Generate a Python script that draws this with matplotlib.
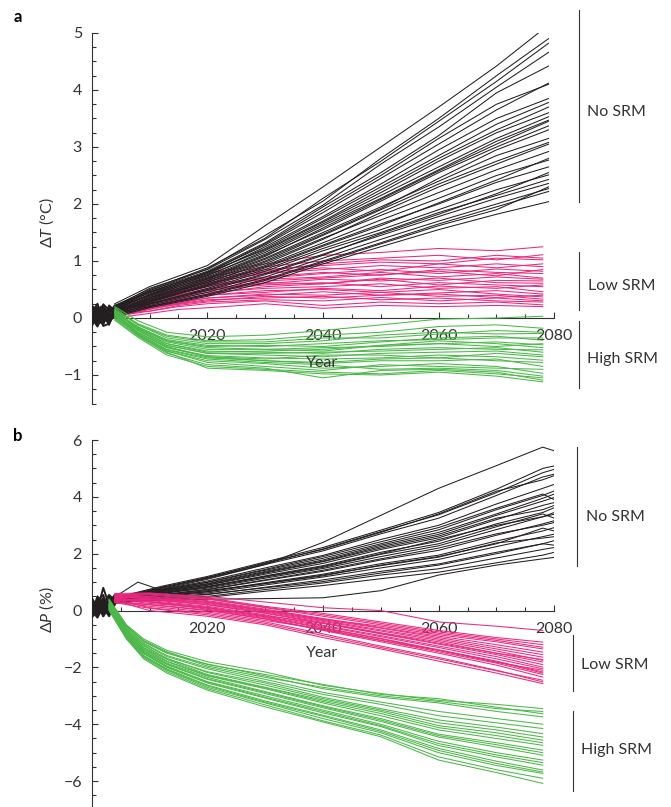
import matplotlib
matplotlib.use("Agg")
import matplotlib.pyplot as plt
from matplotlib.lines import Line2D
from matplotlib.ticker import MultipleLocator, FixedLocator

plt.rcParams["font.family"] = ["Lato", "DejaVu Sans"]
plt.rcParams["mathtext.fontset"] = "custom"
plt.rcParams["mathtext.rm"] = "Lato"
plt.rcParams["mathtext.it"] = "Lato:italic"

TXT = "#333333"
BLACK = "#231f20"
PINK = "#e8297f"
GREEN = "#4cb849"

# ------------------------------
# Data
# ------------------------------
hist_years = [2000, 2001, 2002, 2003, 2004]
hist_a = [
    [0.05, -0.10, 0.15, 0.00, 0.10],
    [-0.05, 0.10, -0.08, 0.20, 0.15],
    [0.20, 0.00, 0.05, -0.12, 0.18],
    [-0.12, 0.15, 0.22, 0.05, 0.12],
    [0.10, 0.25, -0.05, 0.10, 0.20],
    [0.00, -0.15, 0.10, 0.18, 0.05],
    [0.15, 0.05, -0.10, 0.08, 0.22],
    [-0.08, 0.02, 0.18, -0.05, 0.10],
    [0.12, -0.05, 0.00, 0.15, 0.08],
    [-0.15, 0.08, 0.12, -0.02, 0.16],
    [0.22, 0.12, 0.20, 0.02, 0.14],
    [-0.02, -0.12, -0.02, 0.12, 0.20],
    [0.08, 0.18, 0.08, -0.08, 0.06],
    [-0.10, -0.02, -0.12, 0.22, 0.12],
    [0.18, -0.08, 0.24, 0.14, 0.18],
    [-0.06, 0.20, -0.14, -0.10, 0.08],
]
hist_b = [
    [0.10, -0.20, 0.30, 0.05, 0.40],
    [-0.15, 0.25, 0.00, 0.35, 0.50],
    [0.30, 0.05, 0.80, 0.20, 0.45],
    [0.00, 0.40, -0.10, 0.15, 0.30],
    [0.20, -0.05, 0.25, 0.55, 0.35],
    [-0.20, 0.15, 0.45, -0.05, 0.20],
    [0.45, 0.10, -0.15, 0.30, 0.55],
    [0.05, 0.30, 0.10, -0.20, 0.25],
    [0.25, -0.15, 0.05, 0.40, 0.30],
    [-0.10, 0.50, 0.20, 0.00, 0.45],
    [0.35, 0.20, -0.20, 0.10, 0.38],
    [-0.25, 0.00, 0.35, 0.25, 0.28],
    [0.15, 0.35, 0.55, -0.10, 0.42],
    [0.00, -0.25, 0.15, 0.45, 0.35],
    [0.40, -0.10, 0.40, -0.15, 0.32],
    [-0.18, 0.45, -0.20, 0.50, 0.40],
]

# panel a: temperature change (deg C)
no_srm_a_years = [2004, 2010, 2020, 2030, 2040, 2050, 2060, 2070, 2079]
no_srm_a = [
    [0.25, 0.55, 0.92, 1.62, 2.30, 3.00, 3.70, 4.42, 5.14],
    [0.22, 0.50, 0.88, 1.40, 2.10, 2.75, 3.45, 4.15, 4.82],
    [0.20, 0.52, 0.85, 1.38, 1.98, 2.70, 3.35, 4.05, 4.66],
    [0.18, 0.48, 0.82, 1.32, 1.95, 2.55, 3.20, 3.95, 4.42],
    [0.22, 0.45, 0.80, 1.28, 1.85, 2.45, 3.05, 3.65, 4.12],
    [0.15, 0.42, 0.78, 1.22, 1.75, 2.30, 2.85, 3.40, 3.78],
    [0.20, 0.45, 0.80, 1.20, 1.70, 2.25, 2.80, 3.30, 3.70],
    [0.18, 0.40, 0.75, 1.15, 1.65, 2.15, 2.65, 3.15, 3.53],
    [0.12, 0.38, 0.72, 1.12, 1.62, 2.10, 2.60, 3.10, 3.47],
    [0.15, 0.40, 0.70, 1.10, 1.55, 2.05, 2.55, 3.00, 3.37],
    [0.10, 0.35, 0.68, 1.05, 1.50, 1.95, 2.40, 2.85, 3.15],
    [0.15, 0.32, 0.65, 1.00, 1.45, 1.90, 2.35, 2.75, 3.08],
    [0.12, 0.35, 0.62, 0.98, 1.40, 1.80, 2.20, 2.60, 2.92],
    [0.10, 0.30, 0.60, 0.92, 1.32, 1.72, 2.10, 2.50, 2.77],
    [0.08, 0.28, 0.58, 0.90, 1.28, 1.65, 2.00, 2.38, 2.65],
    [0.12, 0.30, 0.55, 0.85, 1.22, 1.55, 1.90, 2.25, 2.51],
    [0.10, 0.25, 0.52, 0.82, 1.18, 1.50, 1.85, 2.15, 2.43],
    [0.05, 0.25, 0.50, 0.78, 1.12, 1.45, 1.78, 2.10, 2.36],
    [0.08, 0.22, 0.45, 0.72, 1.05, 1.38, 1.70, 2.00, 2.27],
    [0.05, 0.20, 0.42, 0.68, 1.00, 1.32, 1.65, 1.95, 2.22],
    [0.02, 0.18, 0.38, 0.62, 0.95, 1.25, 1.55, 1.82, 2.04],
    [0.20, 0.48, 0.86, 1.45, 2.05, 2.80, 3.50, 4.25, 4.90],
    [0.15, 0.46, 0.80, 1.30, 1.90, 2.50, 3.15, 3.75, 4.10],
    [0.18, 0.44, 0.76, 1.25, 1.78, 2.35, 2.95, 3.50, 3.85],
    [0.14, 0.41, 0.74, 1.18, 1.68, 2.20, 2.75, 3.25, 3.60],
    [0.10, 0.36, 0.69, 1.08, 1.58, 2.08, 2.58, 3.05, 3.45],
    [0.12, 0.33, 0.66, 1.03, 1.47, 1.92, 2.45, 2.95, 3.30],
    [0.08, 0.30, 0.63, 0.95, 1.38, 1.85, 2.30, 2.70, 3.05],
    [0.10, 0.27, 0.57, 0.88, 1.26, 1.62, 2.02, 2.42, 2.80],
    [0.06, 0.24, 0.48, 0.76, 1.10, 1.48, 1.82, 2.18, 2.55],
    [0.04, 0.20, 0.40, 0.66, 0.98, 1.30, 1.62, 1.90, 2.30],
]
low_srm_a_years = [2004, 2010, 2015, 2020, 2030, 2040, 2050, 2060, 2070, 2078]
low_srm_a = [
    [0.18, 0.40, 0.60, 0.78, 0.95, 1.10, 1.15, 1.22, 1.18, 1.25],
    [0.15, 0.35, 0.55, 0.72, 0.90, 1.00, 1.05, 1.10, 1.02, 1.11],
    [0.20, 0.38, 0.52, 0.68, 0.85, 0.92, 0.98, 0.95, 1.05, 1.02],
    [0.12, 0.30, 0.48, 0.62, 0.78, 0.85, 0.92, 0.88, 0.95, 0.90],
    [0.15, 0.32, 0.45, 0.58, 0.72, 0.80, 0.75, 0.85, 0.80, 0.78],
    [0.10, 0.28, 0.42, 0.55, 0.68, 0.72, 0.80, 0.72, 0.78, 0.70],
    [0.18, 0.30, 0.40, 0.52, 0.60, 0.68, 0.65, 0.70, 0.62, 0.61],
    [0.08, 0.22, 0.35, 0.48, 0.58, 0.62, 0.55, 0.62, 0.58, 0.55],
    [0.12, 0.25, 0.35, 0.45, 0.52, 0.55, 0.60, 0.52, 0.55, 0.46],
    [0.05, 0.18, 0.30, 0.40, 0.48, 0.50, 0.45, 0.50, 0.42, 0.37],
    [0.10, 0.20, 0.28, 0.35, 0.42, 0.40, 0.45, 0.38, 0.40, 0.33],
    [0.02, 0.15, 0.25, 0.32, 0.35, 0.38, 0.32, 0.35, 0.30, 0.28],
    [0.08, 0.12, 0.20, 0.25, 0.30, 0.22, 0.28, 0.25, 0.28, 0.23],
    [0.00, 0.08, 0.15, 0.18, 0.25, 0.17, 0.22, 0.20, 0.22, 0.20],
    [0.14, 0.28, 0.45, 0.60, 0.80, 0.88, 0.82, 0.95, 0.88, 0.95],
    [0.06, 0.20, 0.32, 0.42, 0.55, 0.60, 0.68, 0.58, 0.66, 0.65],
    [0.16, 0.36, 0.50, 0.65, 0.82, 0.95, 1.02, 1.00, 1.10, 1.05],
    [0.10, 0.26, 0.40, 0.50, 0.65, 0.70, 0.76, 0.82, 0.74, 0.85],
    [0.12, 0.24, 0.38, 0.48, 0.62, 0.60, 0.70, 0.66, 0.72, 0.68],
    [0.05, 0.20, 0.30, 0.40, 0.45, 0.52, 0.48, 0.56, 0.52, 0.58],
    [0.08, 0.18, 0.26, 0.35, 0.40, 0.46, 0.40, 0.44, 0.48, 0.42],
    [0.03, 0.12, 0.22, 0.28, 0.32, 0.30, 0.36, 0.30, 0.35, 0.30],
    [0.14, 0.30, 0.44, 0.56, 0.70, 0.78, 0.85, 0.78, 0.86, 0.82],
    [0.06, 0.16, 0.24, 0.30, 0.38, 0.35, 0.40, 0.42, 0.36, 0.40],
]
high_srm_a_years = [2004, 2008, 2013, 2020, 2030, 2040, 2050, 2060, 2070, 2078]
high_srm_a = [
    [0.20, -0.05, -0.25, -0.33, -0.30, -0.22, -0.12, -0.02, 0.00, 0.03],
    [0.15, -0.10, -0.30, -0.40, -0.38, -0.30, -0.25, -0.15, -0.12, -0.18],
    [0.18, -0.12, -0.35, -0.45, -0.45, -0.40, -0.30, -0.25, -0.28, -0.27],
    [0.10, -0.15, -0.40, -0.50, -0.48, -0.50, -0.42, -0.35, -0.32, -0.39],
    [0.12, -0.18, -0.42, -0.55, -0.55, -0.52, -0.50, -0.45, -0.42, -0.47],
    [0.05, -0.20, -0.45, -0.58, -0.60, -0.62, -0.55, -0.52, -0.55, -0.56],
    [0.15, -0.22, -0.48, -0.62, -0.65, -0.68, -0.62, -0.60, -0.58, -0.65],
    [0.08, -0.25, -0.52, -0.66, -0.70, -0.72, -0.70, -0.65, -0.68, -0.74],
    [0.02, -0.28, -0.55, -0.70, -0.75, -0.80, -0.75, -0.75, -0.72, -0.85],
    [0.10, -0.30, -0.58, -0.75, -0.80, -0.88, -0.85, -0.80, -0.85, -0.97],
    [-0.02, -0.32, -0.62, -0.82, -0.88, -1.05, -0.92, -0.90, -0.95, -1.09],
    [0.05, -0.30, -0.60, -0.88, -0.92, -0.98, -1.00, -0.95, -1.02, -1.12],
    [0.12, -0.20, -0.45, -0.60, -0.58, -0.55, -0.48, -0.40, -0.45, -0.52],
    [0.00, -0.25, -0.50, -0.68, -0.72, -0.65, -0.65, -0.70, -0.62, -0.68],
    [0.14, -0.12, -0.32, -0.42, -0.42, -0.35, -0.35, -0.28, -0.22, -0.25],
    [0.08, -0.18, -0.40, -0.52, -0.55, -0.58, -0.48, -0.45, -0.50, -0.45],
    [0.04, -0.22, -0.48, -0.62, -0.62, -0.60, -0.58, -0.55, -0.52, -0.60],
    [0.10, -0.26, -0.52, -0.68, -0.75, -0.78, -0.72, -0.70, -0.75, -0.78],
    [0.00, -0.30, -0.58, -0.78, -0.85, -0.92, -0.82, -0.85, -0.88, -0.90],
    [0.06, -0.28, -0.56, -0.72, -0.78, -0.82, -0.90, -0.88, -0.92, -1.02],
    [0.12, -0.16, -0.38, -0.48, -0.50, -0.45, -0.40, -0.38, -0.35, -0.35],
    [-0.04, -0.34, -0.65, -0.85, -0.90, -0.95, -0.98, -0.92, -0.98, -1.05],
]

# panel b: precipitation change (%)
no_srm_b_years = [2004, 2008, 2012, 2020, 2030, 2040, 2050, 2060, 2070, 2078, 2080]
no_srm_b = [
    [0.50, 0.60, 0.75, 1.10, 1.62, 2.40, 3.35, 4.30, 5.10, 5.75, 5.62],
    [0.45, 0.65, 0.85, 1.20, 1.71, 2.22, 2.83, 3.45, 4.27, 5.00, 5.09],
    [0.40, 0.62, 0.80, 1.17, 1.65, 2.17, 2.78, 3.37, 4.15, 4.85, 4.97],
    [0.42, 0.60, 0.78, 1.13, 1.62, 2.10, 2.70, 3.25, 4.05, 4.70, 4.80],
    [0.38, 0.58, 0.74, 1.04, 1.50, 1.94, 2.50, 3.00, 3.75, 4.30, 4.44],
    [0.48, 1.00, 0.72, 0.99, 1.42, 1.84, 2.35, 2.84, 3.55, 4.05, 4.21],
    [0.35, 0.55, 0.68, 0.93, 1.35, 1.74, 2.25, 2.68, 3.35, 3.85, 3.98],
    [0.40, 0.52, 0.66, 0.89, 1.28, 1.66, 2.15, 2.56, 3.20, 3.70, 3.80],
    [0.33, 0.50, 0.63, 0.84, 1.22, 1.58, 2.05, 2.44, 3.05, 3.45, 3.62],
    [0.36, 0.48, 0.60, 0.79, 1.14, 1.48, 1.90, 2.28, 2.85, 3.30, 3.39],
    [0.30, 0.45, 0.56, 0.73, 1.06, 1.38, 1.78, 2.12, 2.65, 3.05, 3.16],
    [0.34, 0.42, 0.52, 0.67, 0.98, 1.28, 1.65, 1.95, 2.45, 2.80, 2.92],
    [0.28, 0.40, 0.50, 0.62, 0.90, 1.18, 1.50, 1.80, 2.25, 2.60, 2.69],
    [0.32, 0.38, 0.46, 0.56, 0.82, 1.08, 1.38, 1.64, 2.05, 2.35, 2.46],
    [0.26, 0.35, 0.42, 0.50, 0.74, 0.97, 1.25, 1.47, 1.85, 2.15, 2.22],
    [0.30, 0.34, 0.40, 0.46, 0.68, 0.88, 1.12, 1.35, 1.68, 1.95, 2.05],
    [0.28, 0.33, 0.36, 0.40, 0.42, 0.45, 0.70, 1.25, 1.60, 1.82, 1.87],
    [0.38, 0.50, 0.62, 0.85, 1.20, 1.55, 2.00, 2.50, 3.00, 3.30, 3.45],
    [0.32, 0.44, 0.54, 0.70, 0.95, 1.22, 1.60, 1.90, 2.35, 2.90, 2.80],
    [0.44, 0.62, 0.82, 1.15, 1.68, 2.15, 2.75, 3.40, 4.20, 4.60, 4.75],
    [0.40, 0.56, 0.72, 1.00, 1.45, 1.90, 2.42, 2.92, 3.60, 4.10, 3.90],
    [0.36, 0.52, 0.66, 0.90, 1.32, 1.72, 2.20, 2.62, 3.25, 3.55, 3.70],
    [0.34, 0.48, 0.60, 0.82, 1.18, 1.52, 1.98, 2.35, 2.95, 3.40, 3.25],
    [0.30, 0.44, 0.55, 0.75, 1.08, 1.42, 1.82, 2.20, 2.70, 3.00, 3.10],
    [0.28, 0.40, 0.50, 0.66, 0.95, 1.25, 1.58, 1.88, 2.38, 2.55, 2.60],
    [0.26, 0.36, 0.44, 0.58, 0.80, 1.02, 1.32, 1.60, 2.00, 2.35, 2.30],
    [0.42, 0.55, 0.70, 0.95, 1.38, 1.78, 2.30, 2.75, 3.40, 3.95, 4.10],
]
low_srm_b_years = [2004, 2010, 2020, 2030, 2040, 2050, 2060, 2070, 2078]
low_srm_b = [
    [0.55, 0.60, 0.50, 0.30, 0.10, 0.00, -0.40, -0.55, -0.70],
    [0.60, 0.62, 0.45, 0.15, -0.10, -0.40, -0.70, -0.95, -1.11],
    [0.50, 0.55, 0.40, 0.10, -0.20, -0.50, -0.80, -1.05, -1.29],
    [0.45, 0.50, 0.35, 0.05, -0.28, -0.60, -0.90, -1.20, -1.46],
    [0.55, 0.45, 0.28, -0.02, -0.35, -0.68, -1.00, -1.35, -1.64],
    [0.40, 0.40, 0.22, -0.08, -0.42, -0.78, -1.10, -1.50, -1.81],
    [0.35, 0.35, 0.15, -0.15, -0.52, -0.88, -1.25, -1.62, -1.99],
    [0.45, 0.30, 0.08, -0.22, -0.60, -0.98, -1.38, -1.78, -2.16],
    [0.30, 0.20, 0.00, -0.30, -0.70, -1.10, -1.50, -1.92, -2.34],
    [0.40, 0.10, -0.10, -0.40, -0.82, -1.25, -1.65, -2.10, -2.51],
    [0.35, 0.00, -0.20, -0.50, -0.95, -1.35, -1.78, -2.20, -2.57],
    [0.50, 0.40, 0.30, 0.00, -0.30, -0.55, -0.85, -1.10, -1.35],
    [0.40, 0.25, 0.10, -0.18, -0.45, -0.82, -1.18, -1.55, -1.90],
    [0.30, 0.15, -0.05, -0.35, -0.65, -1.05, -1.40, -1.80, -2.20],
    [0.55, 0.58, 0.42, 0.12, -0.15, -0.45, -0.75, -1.00, -1.20],
    [0.48, 0.48, 0.32, 0.02, -0.32, -0.62, -0.95, -1.28, -1.55],
    [0.42, 0.38, 0.20, -0.10, -0.45, -0.80, -1.15, -1.50, -1.72],
    [0.38, 0.32, 0.12, -0.20, -0.55, -0.92, -1.30, -1.70, -2.05],
    [0.32, 0.22, 0.02, -0.28, -0.68, -1.05, -1.45, -1.85, -2.25],
    [0.28, 0.08, -0.15, -0.45, -0.88, -1.30, -1.70, -2.12, -2.45],
    [0.50, 0.42, 0.25, -0.05, -0.38, -0.72, -1.05, -1.42, -1.75],
    [0.44, 0.30, 0.05, -0.25, -0.62, -1.00, -1.40, -1.82, -2.10],
]
high_srm_b_years = [2003, 2006, 2009, 2013, 2020, 2030, 2040, 2050, 2060, 2070, 2078]
high_srm_b = [
    [0.40, -0.50, -1.00, -1.40, -1.80, -2.16, -2.63, -2.92, -3.16, -3.30, -3.45],
    [0.35, -0.55, -1.05, -1.45, -1.90, -2.25, -2.60, -2.95, -3.10, -3.40, -3.63],
    [0.38, -0.52, -1.10, -1.50, -1.88, -2.30, -2.75, -3.05, -3.25, -3.55, -3.74],
    [0.30, -0.62, -1.18, -1.62, -2.05, -2.50, -2.95, -3.30, -3.70, -3.95, -4.15],
    [0.25, -0.68, -1.22, -1.70, -2.15, -2.55, -3.05, -3.45, -3.85, -4.10, -4.33],
    [0.22, -0.70, -1.30, -1.72, -2.25, -2.70, -3.15, -3.55, -4.05, -4.30, -4.56],
    [0.20, -0.75, -1.35, -1.80, -2.30, -2.75, -3.25, -3.70, -4.20, -4.50, -4.74],
    [0.18, -0.78, -1.38, -1.85, -2.35, -2.85, -3.35, -3.80, -4.35, -4.65, -4.91],
    [0.15, -0.80, -1.45, -1.90, -2.42, -2.92, -3.42, -3.90, -4.45, -4.80, -5.09],
    [0.12, -0.85, -1.48, -1.95, -2.50, -3.00, -3.50, -4.00, -4.60, -5.00, -5.26],
    [0.10, -0.88, -1.52, -2.00, -2.55, -3.08, -3.60, -4.08, -4.75, -5.15, -5.44],
    [0.08, -0.90, -1.58, -2.05, -2.62, -3.18, -3.68, -4.20, -4.85, -5.30, -5.61],
    [0.05, -0.95, -1.62, -2.10, -2.70, -3.25, -3.80, -4.30, -5.00, -5.45, -5.73],
    [0.00, -1.00, -1.70, -2.20, -2.80, -3.39, -3.92, -4.44, -5.26, -5.70, -6.08],
    [0.36, -0.56, -1.08, -1.48, -1.95, -2.35, -2.70, -3.00, -3.20, -3.45, -3.55],
    [0.32, -0.60, -1.15, -1.58, -2.00, -2.42, -2.88, -3.22, -3.55, -3.80, -4.00],
    [0.26, -0.66, -1.25, -1.68, -2.18, -2.62, -3.10, -3.50, -3.95, -4.20, -4.45],
    [0.21, -0.72, -1.32, -1.78, -2.28, -2.72, -3.20, -3.62, -4.12, -4.40, -4.65],
    [0.16, -0.79, -1.42, -1.88, -2.40, -2.88, -3.38, -3.85, -4.40, -4.72, -5.00],
    [0.11, -0.86, -1.50, -1.98, -2.52, -3.05, -3.55, -4.05, -4.68, -5.08, -5.35],
    [0.07, -0.92, -1.60, -2.08, -2.65, -3.22, -3.72, -4.25, -4.92, -5.38, -5.68],
    [0.03, -0.98, -1.66, -2.15, -2.75, -3.32, -3.88, -4.38, -5.15, -5.60, -5.90],
]

x_major = [2020, 2040, 2060, 2080]
x_minor = [2005, 2010, 2015, 2025, 2030, 2035, 2045, 2050, 2055, 2065, 2070, 2075]


# ------------------------------
# Figure
# ------------------------------
fig = plt.figure(figsize=(6.71, 8.07), dpi=100)
ax_a = fig.add_axes([0.13666, 0.5, 0.68942, 0.45911])
ax_b = fig.add_axes([0.13666, 0.0004, 0.68942, 0.45434])


def draw_group(ax, years, lines, color, z, lw=0.75):
    for vals in lines:
        ax.plot(years, vals, color=color, lw=lw, zorder=z, solid_joinstyle="round")


def style_axis(ax, ylim, minor_step):
    ax.set_xlim(2000, 2080)
    ax.set_ylim(*ylim)
    for s in ["top", "right"]:
        ax.spines[s].set_visible(False)
    ax.spines["bottom"].set_position(("data", 0))
    ax.spines["bottom"].set_bounds(2000, 2080)
    for s in ["left", "bottom"]:
        ax.spines[s].set_color(TXT)
        ax.spines[s].set_linewidth(0.8)
        ax.spines[s].set_zorder(1)
    ax.xaxis.set_major_locator(FixedLocator(x_major))
    ax.xaxis.set_minor_locator(FixedLocator(x_minor))
    ax.yaxis.set_major_locator(MultipleLocator(1 if minor_step < 0.5 else 2))
    ax.yaxis.set_minor_locator(MultipleLocator(minor_step))
    ax.tick_params(axis="both", which="major", direction="in", length=4.5, width=0.8,
                   color=TXT, labelcolor=TXT, labelsize=11.5)
    ax.tick_params(axis="both", which="minor", direction="in", length=3, width=0.8, color=TXT)
    ax.tick_params(axis="x", which="major", pad=8)
    ax.tick_params(axis="y", which="major", pad=7)
    ax.patch.set_visible(False)


# panel a
draw_group(ax_a, hist_years, hist_a, BLACK, 2, lw=1.4)
draw_group(ax_a, low_srm_a_years, low_srm_a, PINK, 2)
draw_group(ax_a, no_srm_a_years, no_srm_a, BLACK, 3)
draw_group(ax_a, high_srm_a_years, high_srm_a, GREEN, 4)
style_axis(ax_a, (-1.5, 5), 0.25)

# panel b
draw_group(ax_b, hist_years, hist_b, BLACK, 2, lw=1.4)
draw_group(ax_b, no_srm_b_years, no_srm_b, BLACK, 2)
draw_group(ax_b, low_srm_b_years, low_srm_b, PINK, 3)
draw_group(ax_b, high_srm_b_years, high_srm_b, GREEN, 4)
style_axis(ax_b, (-6.9, 6), 0.5)

# axis labels
fig.text(0.070, 0.7237, "Δ$T$ (°C)", rotation=90, ha="center", va="center",
         fontsize=11.5, color=TXT)
fig.text(0.070, 0.2441, "Δ$P$ (%)", rotation=90, ha="center", va="center",
         fontsize=11.5, color=TXT)
fig.text(0.4794, 0.5502, "Year", ha="center", va="center", fontsize=11.5, color=TXT, zorder=10)
fig.text(0.4794, 0.1908, "Year", ha="center", va="center", fontsize=11.5, color=TXT, zorder=10)

# panel letters
fig.text(0.0268, 0.979, "a", ha="center", va="center", fontsize=12, fontweight="bold", color="black")
fig.text(0.0268, 0.4597, "b", ha="center", va="center", fontsize=12, fontweight="bold", color="black")

# scenario brackets
brackets = [
    (0.8629, 0.9876, 0.7497, 0.8748, 0.8616, "No SRM"),
    (0.8629, 0.6881, 0.6159, 0.8763, 0.6456, "Low SRM"),
    (0.8629, 0.6026, 0.5188, 0.8748, 0.5548, "High SRM"),
    (0.8599, 0.4457, 0.2986, 0.8729, 0.3597, "No SRM"),
    (0.8539, 0.2131, 0.1441, 0.8654, 0.1760, "Low SRM"),
    (0.8539, 0.1193, 0.0198, 0.8654, 0.0706, "High SRM"),
]
for bx, y0, y1, tx, ty, label in brackets:
    fig.add_artist(Line2D([bx, bx], [y0, y1], color=TXT, lw=0.8, transform=fig.transFigure))
    fig.text(tx, ty, label, ha="left", va="center", fontsize=11.5, color=TXT)

fig.savefig("out.png", dpi=100)
